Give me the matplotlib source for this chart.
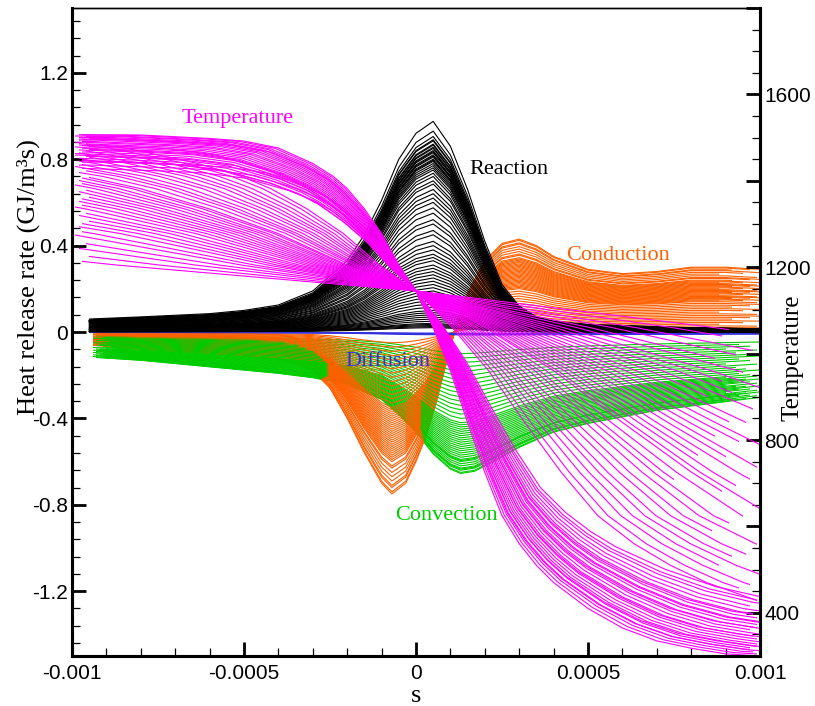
import numpy as np
import matplotlib
matplotlib.use("Agg")
import matplotlib.pyplot as plt
from matplotlib.patches import Rectangle
from matplotlib.ticker import FixedLocator, FixedFormatter, MultipleLocator
import matplotlib.transforms as mtransforms

# ------------------------------------------------------------------ data
# Reaction (black): profile of the highest curve and the peak of every curve
reaction_x = [-0.00095, -0.0008, -0.0006, -0.0005, -0.0004, -0.0003, -0.0002, -0.00015,
              -0.0001, -0.00005, 0.0, 0.00005, 0.0001, 0.00015, 0.0002, 0.00025, 0.0003,
              0.00035, 0.0004, 0.0005, 0.0006, 0.0007, 0.0008, 0.0009, 0.001]
reaction_y = [0.06, 0.07, 0.085, 0.10, 0.125, 0.19, 0.33, 0.45, 0.61, 0.80, 0.92, 0.975,
              0.86, 0.66, 0.42, 0.22, 0.12, 0.07, 0.05, 0.035, 0.03, 0.025, 0.02, 0.018, 0.015]
reaction_peaks = [0.975, 0.93, 0.905, 0.89, 0.885, 0.87, 0.865, 0.855, 0.85, 0.84, 0.835,
                  0.83, 0.82, 0.815, 0.81, 0.80, 0.795, 0.79, 0.78, 0.77, 0.76, 0.75, 0.735,
                  0.72, 0.70, 0.685, 0.66, 0.64, 0.62, 0.60, 0.575, 0.55, 0.52, 0.50, 0.47,
                  0.45, 0.42, 0.40, 0.38, 0.36, 0.345, 0.33, 0.31, 0.295, 0.28, 0.265, 0.25,
                  0.235, 0.22, 0.205, 0.19, 0.175, 0.16, 0.145, 0.13, 0.115, 0.10, 0.09,
                  0.08, 0.07, 0.06, 0.05, 0.04, 0.035, 0.03, 0.025, 0.02]
reaction_start = [-0.00095, -0.00094, -0.00096, -0.00093]
reaction_end = [0.001]

# Conduction (orange): profile of the deepest curve and the minimum of every curve
conduction_x = [-0.00095, -0.0008, -0.0006, -0.0005, -0.0004, -0.00035, -0.0003, -0.00025,
                -0.0002, -0.00015, -0.0001, -0.00007, -0.00003, 0.0, 0.00003, 0.00006,
                0.00009, 0.00012, 0.00015, 0.0002, 0.00025, 0.0003, 0.00035, 0.0004,
                0.0005, 0.0006, 0.0007, 0.0008, 0.0009, 0.001]
conduction_y = [-0.06, -0.08, -0.10, -0.11, -0.13, -0.15, -0.18, -0.26, -0.40, -0.56, -0.70,
                -0.75, -0.70, -0.60, -0.48, -0.32, -0.13, 0.05, 0.18, 0.33, 0.41, 0.43, 0.40,
                0.35, 0.29, 0.27, 0.28, 0.30, 0.30, 0.29]
conduction_mins = [-0.75, -0.74, -0.72, -0.71, -0.69, -0.67, -0.65, -0.63, -0.62, -0.60,
                   -0.59, -0.58, -0.57, -0.56, -0.55, -0.54, -0.53, -0.52, -0.51, -0.50,
                   -0.49, -0.48, -0.47, -0.46, -0.45, -0.44, -0.43, -0.42, -0.41, -0.40,
                   -0.39, -0.38, -0.37, -0.36, -0.35, -0.33, -0.31, -0.29, -0.27, -0.25,
                   -0.23, -0.21, -0.19, -0.17, -0.15, -0.13, -0.11, -0.09, -0.07, -0.05]
conduction_start = [-0.00094, -0.00093, -0.00092, -0.00094, -0.00091]
conduction_end = [0.001, 0.00097, 0.00092, 0.001, 0.00095, 0.00088, 0.00099]

# Convection (green): profile of the deepest curve and the minimum of every curve
convection_x = [-0.00095, -0.0008, -0.0006, -0.0004, -0.0003, -0.0002, -0.0001, -0.00005,
                0.0, 0.00005, 0.0001, 0.00013, 0.00017, 0.00022, 0.0003, 0.0004, 0.0005,
                0.0006, 0.0007, 0.0008, 0.0009, 0.001]
convection_y = [-0.115, -0.13, -0.16, -0.19, -0.21, -0.24, -0.31, -0.38, -0.46, -0.56, -0.63,
                -0.65, -0.64, -0.60, -0.53, -0.46, -0.42, -0.39, -0.36, -0.34, -0.32, -0.30]
convection_mins = [-0.655, -0.65, -0.64, -0.635, -0.63, -0.62, -0.61, -0.60, -0.595, -0.59,
                   -0.58, -0.57, -0.56, -0.55, -0.54, -0.53, -0.52, -0.51, -0.50, -0.49,
                   -0.48, -0.47, -0.46, -0.45, -0.44, -0.43, -0.42, -0.40, -0.38, -0.36,
                   -0.34, -0.32, -0.30, -0.28, -0.26, -0.24, -0.22, -0.20, -0.18, -0.16,
                   -0.14, -0.12, -0.10]
convection_start = [-0.00093, -0.00092, -0.0009, -0.00094, -0.00091, -0.00089]
convection_end = [0.001, 0.00096, 0.00093, 0.00099, 0.0009, 0.00097, 0.00094]

# Diffusion (blue)
diffusion_x = [-0.00095, -0.0005, -0.0002, 0.0, 0.0002, 0.0005, 0.001]
diffusion_y = [-0.002, -0.003, -0.006, -0.012, -0.014, -0.012, -0.010]
diffusion_scale = [1.0, 0.8, 0.6, 0.4]

# Temperature (magenta, right axis): thinnest profile [K]; it passes the pinch
# point (x = 0, 1145 K) shared by all curves
temperature_x = [-0.001, -0.0008, -0.0007, -0.0006, -0.0005, -0.0004, -0.0003, -0.00024,
                 -0.0002, -0.00015, -0.0001, -0.00005, 0.0, 0.00005, 0.0001, 0.00015,
                 0.0002, 0.00025, 0.0003, 0.00035, 0.0004, 0.0005, 0.0006, 0.0007,
                 0.0008, 0.0009, 0.001]
temperature_T = [1507, 1506, 1502, 1498, 1492, 1476, 1440, 1410, 1382, 1335, 1278, 1205,
                 1145, 1060, 960, 840, 725, 625, 560, 510, 470, 410, 365, 335, 318, 305, 300]
# steep bundle: hot-end temperature, cold-end temperature and the position
# where each curve passes 725 K
bundle_hot = [1507, 1506, 1504, 1503, 1501, 1499, 1497, 1495, 1492, 1490, 1487, 1484,
              1481, 1478, 1474, 1470, 1466, 1461, 1456, 1450, 1444, 1437, 1430, 1462, 1489,
              1497, 1476, 1452]
bundle_cold = [300, 303, 306, 309, 312, 316, 319, 323, 327, 331, 336, 341, 346, 352, 358,
               364, 371, 378, 385, 393, 318, 334, 349, 372, 404, 311, 357, 398]
bundle_mid = [0.0002, 0.000205, 0.00021, 0.000215, 0.00022, 0.000224, 0.000228, 0.000232,
              0.000236, 0.00024, 0.000244, 0.000248, 0.000252, 0.000256, 0.00026, 0.000264,
              0.000268, 0.000272, 0.000276, 0.00028, 0.000218, 0.000234, 0.000246, 0.000262,
              0.00029, 0.000212, 0.000258, 0.000284]
bundle_end = [0.001, 0.00099, 0.00098, 0.001, 0.00097, 0.001, 0.00099]
# spreading fan: cold-end temperature and end position of each curve
fan_cold = [426, 441, 458, 472, 489, 503, 522, 538, 556, 574, 589, 607, 626, 641, 662,
            679, 697, 716, 733, 752, 771, 789, 808, 826, 847, 865, 884, 903, 921, 944, 963,
            985, 1004, 1026, 1045]
fan_end = [0.00099, 0.00094, 0.00097, 0.00088, 0.001, 0.00092, 0.00096, 0.00086, 0.00099,
           0.00091, 0.00075, 0.00095, 0.00089, 0.001, 0.00093, 0.00082, 0.00097, 0.0009,
           0.00099, 0.00087, 0.00094, 0.001, 0.00091, 0.00096, 0.00085, 0.00098, 0.00092,
           0.00089, 0.001, 0.00095, 0.00087, 0.00093, 0.00098, 0.00089, 0.00091]
temperature_start = [-0.00098, -0.00097, -0.00099, -0.00096, -0.00098, -0.00095, -0.00097]

# axes ticks
x_ticks = [-0.001, -0.0005, 0.0, 0.0005, 0.001]
x_tick_labels = ["-0.001", "-0.0005", "0", "0.0005", "0.001"]
y_ticks = [-1.2, -0.8, -0.4, 0.0, 0.4, 0.8, 1.2]
y_tick_labels = ["-1.2", "-0.8", "-0.4", "0", "0.4", "0.8", "1.2"]
t_ticks = [400, 600, 800, 1000, 1200, 1400, 1600, 1800]
t_tick_labels = ["400", "", "800", "", "1200", "", "1600", ""]

# ------------------------------------------------------------------ style
MAGENTA = "#ff00ff"
ORANGE = "#ff6000"
GREEN = "#00cc00"
BLUE = "#3030e0"
BLACK = "#000000"
LW = 0.8
SERIF = "Liberation Serif"
plt.rcParams["font.family"] = ["Liberation Sans", "DejaVu Sans"]

W, H = 815, 706
fig = plt.figure(figsize=(W / 100, H / 100), dpi=100)
L, R, T, B = 72, 760, 8, 656
ax = fig.add_axes([L / W, (H - B) / H, (R - L) / W, (B - T) / H])
ax.set_xlim(-0.001, 0.001)
ax.set_ylim(-1.5, 1.5)
ax2 = ax.twinx()
ax2.set_ylim(300, 1800)

clip_tr = mtransforms.blended_transform_factory(ax.transData, ax.transAxes)


def clip_line(line, x0, x1):
    rect = Rectangle((x0, 0), x1 - x0, 1, transform=clip_tr, facecolor="none")
    line.set_clip_path(rect)


def family_line(axis, xs, ys, scale, color, x0, x1):
    line, = axis.plot(xs, np.asarray(ys) * scale, color=color, lw=LW)
    clip_line(line, x0, x1)


cx, cy = np.asarray(conduction_x), np.asarray(conduction_y)
vx, vy = np.asarray(convection_x), np.asarray(convection_y)
n = max(len(conduction_mins), len(convection_mins))
for i in range(n):
    if i < len(convection_mins):
        family_line(ax, vx, vy, convection_mins[i] / vy.min(), GREEN,
                    convection_start[i % len(convection_start)],
                    convection_end[i % len(convection_end)])
    if i < len(conduction_mins):
        family_line(ax, cx, cy, conduction_mins[i] / cy.min(), ORANGE,
                    conduction_start[i % len(conduction_start)],
                    conduction_end[i % len(conduction_end)])

for s in diffusion_scale:
    family_line(ax, diffusion_x, diffusion_y, s, BLUE, -0.00095, 0.001)

rx, ry = np.asarray(reaction_x), np.asarray(reaction_y)
for i, p in enumerate(reaction_peaks):
    family_line(ax, rx, ry, p / ry.max(), BLACK,
                reaction_start[i % len(reaction_start)],
                reaction_end[i % len(reaction_end)])

# temperature
tx, tT = np.asarray(temperature_x), np.asarray(temperature_T, dtype=float)
pinch = tT[tx == 0][0]
hot_ref, cold_ref = tT[0], tT[-1]
cold = tx >= 0
tx_cold, tT_cold = tx[cold], tT[cold]
mid_ref = np.interp(725, tT_cold[::-1], tx_cold[::-1])
k = 0
for h, c, m in zip(bundle_hot, bundle_cold, bundle_mid):
    khot = (h - pinch) / (hot_ref - pinch)
    kcold = (pinch - c) / (pinch - cold_ref)
    stretch = m / mid_ref
    yy = np.where(tx < 0, pinch + (tT - pinch) * khot, pinch + (tT - pinch) * kcold)
    line, = ax2.plot(tx * stretch, yy, color=MAGENTA, lw=LW)
    clip_line(line, temperature_start[k % len(temperature_start)],
              bundle_end[k % len(bundle_end)])
    k += 1

for c, e in zip(fan_cold, fan_end):
    x_star = np.interp(c, tT_cold[::-1], tx_cold[::-1])
    stretch = 0.001 / x_star
    line, = ax2.plot(tx * stretch, tT, color=MAGENTA, lw=LW)
    clip_line(line, temperature_start[k % len(temperature_start)], e)
    k += 1

# ------------------------------------------------------------------ axes styling
ax.xaxis.set_major_locator(FixedLocator(x_ticks))
ax.xaxis.set_major_formatter(FixedFormatter(x_tick_labels))
ax.xaxis.set_minor_locator(MultipleLocator(0.0001))
ax.yaxis.set_major_locator(FixedLocator(y_ticks))
ax.yaxis.set_major_formatter(FixedFormatter(y_tick_labels))
ax.yaxis.set_minor_locator(MultipleLocator(0.08))
ax2.yaxis.set_major_locator(FixedLocator(t_ticks))
ax2.yaxis.set_major_formatter(FixedFormatter(t_tick_labels))
ax2.yaxis.set_minor_locator(MultipleLocator(50))

ax.tick_params(axis="both", which="major", direction="in", length=10, width=2,
               labelsize=15, top=False, right=False)
ax.tick_params(axis="both", which="minor", direction="in", length=6, width=0.9,
               top=False, right=False)
ax.tick_params(axis="y", which="major", pad=3)
ax.tick_params(axis="x", which="major", pad=6)
ax2.tick_params(axis="y", which="major", direction="in", length=10, width=2,
                labelsize=15, pad=3)
ax2.tick_params(axis="y", which="minor", direction="in", length=6, width=0.9)

for a in (ax, ax2):
    for side in ("left", "bottom", "right"):
        a.spines[side].set_linewidth(2.2)
    a.spines["top"].set_linewidth(1.0)

# labels
fig.text(28 / W, 1 - 277 / H, "Heat release rate (GJ/m\u00b3s)", rotation=90,
         ha="center", va="center", fontsize=19, family=SERIF)
fig.text(793 / W, 1 - 358 / H, "Temperature", rotation=90, ha="center", va="center",
         fontsize=18, family=SERIF)
fig.text(416 / W, 1 - 702 / H, "s", ha="center", va="baseline", fontsize=19, family=SERIF)

annot = [("Temperature", 238, 119, MAGENTA), ("Reaction", 509, 169, BLACK),
         ("Conduction", 618, 256, ORANGE), ("Diffusion", 388, 362, BLUE),
         ("Convection", 446, 516, GREEN)]
for txt, px, py, col in annot:
    fig.text(px / W, 1 - py / H, txt, ha="center", va="center", fontsize=16,
             family=SERIF, color=col)

fig.savefig("out.png", dpi=100)
